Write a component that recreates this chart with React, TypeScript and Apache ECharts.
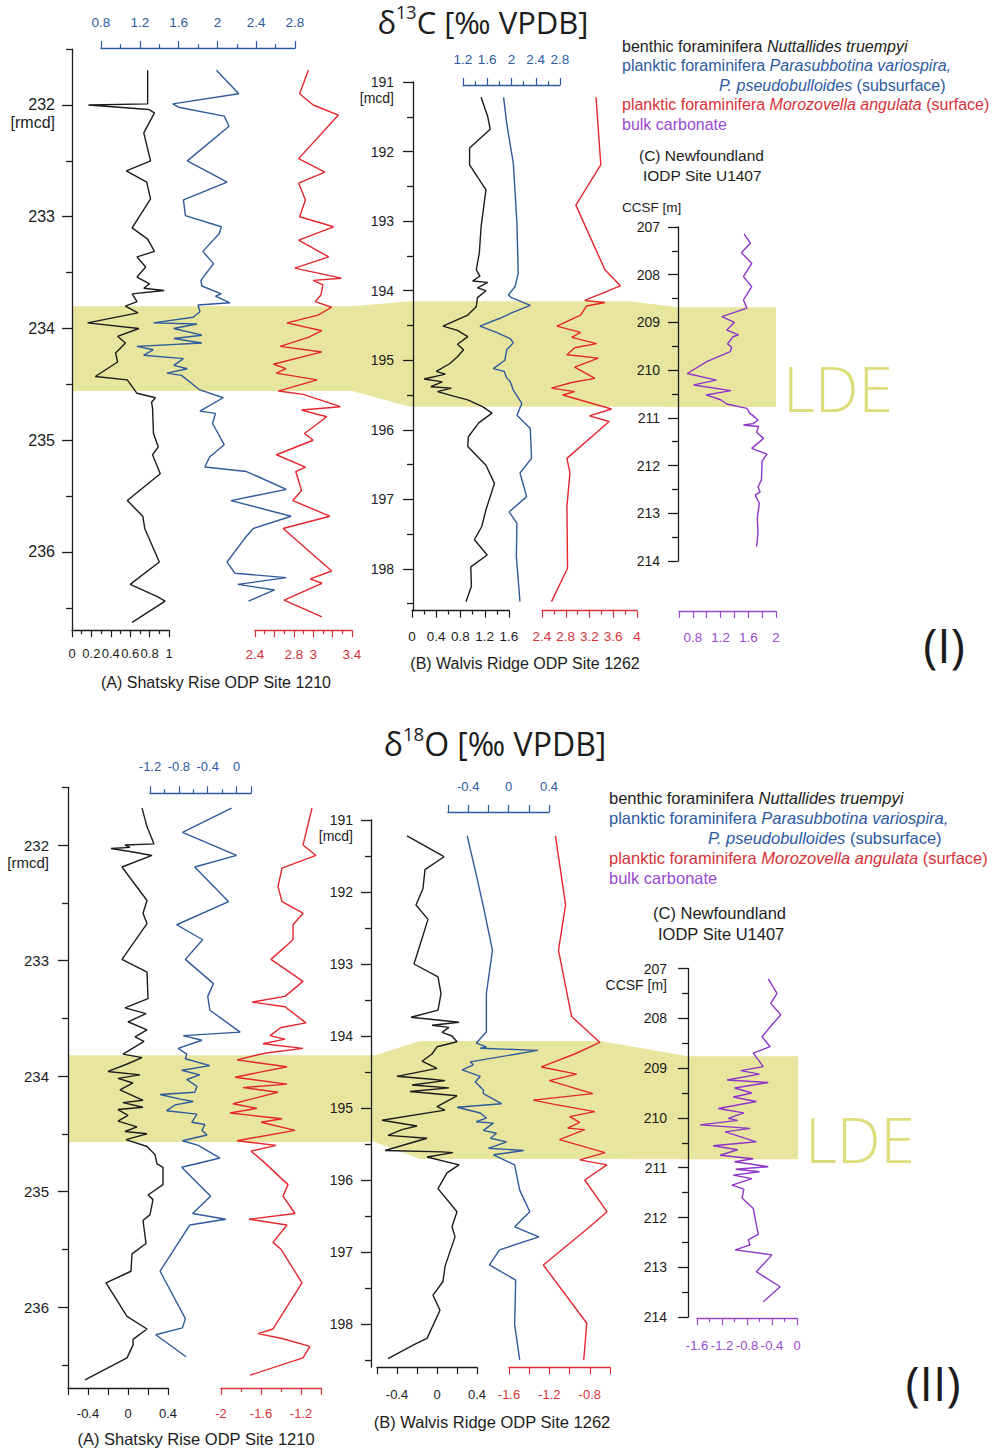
import React, { useEffect, useRef } from 'react';
import * as echarts from 'echarts';

// Each sample: [depth, isotope value in ‰ VPDB]
type Sample = [number, number];

// ---------- δ13C — (A) Shatsky Rise ODP Site 1210, depth in rmcd ----------
const shatskyC13Benthic: Sample[] = [
  [231.69, 0.78], [231.99, 0.78], [232.0, 0.17], [232.04, 0.79], [232.07, 0.85], [232.25, 0.74],
  [232.5, 0.81], [232.59, 0.56], [232.69, 0.77], [232.84, 0.81], [233.1, 0.62], [233.2, 0.78],
  [233.31, 0.85], [233.36, 0.67], [233.45, 0.76], [233.54, 0.67], [233.6, 0.8], [233.64, 0.74],
  [233.66, 0.95], [233.69, 0.62], [233.76, 0.67], [233.8, 0.55], [233.86, 0.68], [233.95, 0.16],
  [234.0, 0.69], [234.07, 0.47], [234.13, 0.55], [234.22, 0.45], [234.3, 0.47], [234.43, 0.24],
  [234.46, 0.57], [234.58, 0.67], [234.62, 0.86], [234.66, 0.82], [234.71, 0.83], [234.94, 0.84],
  [235.06, 0.89], [235.13, 0.83], [235.3, 0.91], [235.54, 0.57], [235.68, 0.73], [235.79, 0.75],
  [236.09, 0.9], [236.29, 0.6], [236.4, 0.88], [236.44, 0.96], [236.63, 0.62],
];
const shatskyC13Subsurface: Sample[] = [
  [231.69, 1.99], [231.9, 2.22], [231.99, 1.54], [232.02, 1.6], [232.1, 2.07], [232.19, 2.12],
  [232.5, 1.69], [232.69, 2.1], [232.85, 1.65], [232.99, 1.67], [233.09, 2.04], [233.15, 2.02],
  [233.31, 1.85], [233.42, 1.96], [233.57, 1.83], [233.62, 1.84], [233.69, 2.04], [233.71, 1.98],
  [233.77, 2.13], [233.79, 1.8], [233.85, 1.82], [233.9, 1.75], [233.95, 1.34], [233.96, 1.79],
  [234.0, 1.55], [234.06, 1.84], [234.09, 1.55], [234.13, 1.84], [234.16, 1.17], [234.19, 1.34],
  [234.24, 1.24], [234.27, 1.65], [234.33, 1.55], [234.36, 1.69], [234.4, 1.48], [234.42, 1.63],
  [234.55, 1.82], [234.62, 2.06], [234.74, 1.82], [234.76, 1.98], [234.85, 1.95], [235.04, 2.07],
  [235.15, 1.92], [235.24, 1.87], [235.28, 2.3], [235.44, 2.71], [235.54, 2.14], [235.68, 2.76],
  [235.79, 2.37], [235.88, 2.28], [236.09, 2.1], [236.19, 2.18], [236.23, 2.71], [236.29, 2.21],
  [236.34, 2.59], [236.44, 2.32],
];
const shatskyC13Surface: Sample[] = [
  [231.69, 2.95], [231.9, 2.86], [232.0, 3.0], [232.09, 3.26], [232.48, 2.85], [232.6, 3.12],
  [232.7, 2.85], [232.85, 2.92], [233.0, 2.86], [233.09, 3.21], [233.21, 2.85], [233.36, 3.16],
  [233.46, 2.81], [233.55, 3.29], [233.57, 3.0], [233.61, 3.1], [233.7, 3.08], [233.76, 3.02],
  [233.81, 3.19], [233.88, 3.05], [233.95, 2.73], [234.02, 3.09], [234.08, 2.95], [234.16, 2.66],
  [234.21, 3.09], [234.32, 2.59], [234.36, 2.72], [234.4, 2.62], [234.46, 3.04], [234.56, 2.64],
  [234.59, 2.9], [234.7, 3.28], [234.73, 2.88], [234.79, 3.14], [234.94, 2.91], [235.0, 3.0],
  [235.13, 2.62], [235.24, 2.92], [235.28, 2.82], [235.45, 2.88], [235.54, 2.79], [235.68, 3.17],
  [235.79, 2.69], [236.17, 3.19], [236.24, 2.97], [236.28, 3.09], [236.43, 2.7], [236.58, 3.09],
];

// ---------- δ13C — (B) Walvis Ridge ODP Site 1262, depth in mcd ----------
const walvisC13Benthic: Sample[] = [
  [191.22, 1.14], [191.5, 1.25], [191.68, 1.29], [191.95, 0.95], [192.19, 0.95], [192.55, 1.22],
  [193.08, 1.14], [193.46, 1.11], [193.7, 1.06], [193.79, 1.12], [193.86, 1.0], [193.88, 1.25],
  [193.96, 1.08], [194.0, 1.22], [194.1, 1.08], [194.23, 1.06], [194.35, 0.92], [194.51, 0.51],
  [194.57, 0.75], [194.66, 0.92], [194.77, 0.75], [194.85, 0.85], [194.95, 0.75], [195.05, 0.62],
  [195.16, 0.4], [195.2, 0.55], [195.27, 0.2], [195.31, 0.5], [195.38, 0.31], [195.4, 0.65],
  [195.45, 0.42], [195.52, 0.7], [195.57, 0.92], [195.67, 1.17], [195.76, 1.32], [195.9, 1.1],
  [196.1, 0.93], [196.24, 0.92], [196.51, 1.22], [196.77, 1.36], [197.15, 1.22], [197.39, 1.15],
  [197.58, 1.03], [197.8, 1.24], [197.97, 0.97], [198.25, 0.98], [198.47, 0.89],
];
const walvisC13Subsurface: Sample[] = [
  [191.22, 1.87], [191.59, 1.92], [192.17, 2.03], [193.03, 2.09], [193.75, 2.11], [193.94, 2.06],
  [194.06, 1.95], [194.1, 2.0], [194.21, 2.31], [194.32, 2.0], [194.4, 1.8], [194.51, 1.48],
  [194.6, 1.75], [194.69, 1.98], [194.75, 2.03], [194.85, 1.92], [195.0, 1.89], [195.12, 1.7],
  [195.16, 1.88], [195.25, 1.92], [195.31, 1.98], [195.43, 2.03], [195.62, 2.17], [195.79, 2.09],
  [195.98, 2.31], [196.41, 2.33], [196.62, 2.14], [196.96, 2.25], [197.18, 1.96], [197.34, 2.09],
  [197.82, 2.08], [198.47, 2.14],
];
const walvisC13Surface: Sample[] = [
  [191.22, 3.31], [192.19, 3.39], [192.77, 2.97], [193.7, 3.46], [193.93, 3.72], [194.14, 3.12],
  [194.17, 3.46], [194.22, 3.15], [194.35, 3.05], [194.51, 2.65], [194.6, 3.05], [194.67, 2.9],
  [194.76, 3.32], [194.82, 2.95], [194.92, 2.82], [194.97, 3.35], [195.1, 2.95], [195.26, 3.29],
  [195.32, 2.9], [195.4, 2.56], [195.45, 2.95], [195.5, 2.75], [195.7, 3.57], [195.8, 3.2],
  [195.88, 3.53], [196.41, 2.82], [196.62, 2.87], [197.1, 2.82], [197.99, 2.83], [198.47, 2.56],
];

// ---------- δ13C — (C) Newfoundland IODP Site U1407, depth in CCSF m ----------
const newfoundlandC13Bulk: Sample[] = [
  [207.15, 1.54], [207.34, 1.63], [207.54, 1.5], [207.76, 1.65], [208.04, 1.53], [208.25, 1.65],
  [208.53, 1.53], [208.7, 1.58], [208.88, 1.22], [209.0, 1.4], [209.16, 1.29], [209.26, 1.46],
  [209.3, 1.38], [209.45, 1.3], [209.52, 1.36], [209.61, 1.34], [209.82, 1.0], [210.07, 0.72],
  [210.21, 1.14], [210.31, 0.81], [210.43, 1.35], [210.52, 0.99], [210.62, 1.2], [210.71, 1.29],
  [210.8, 1.58], [210.9, 1.62], [210.99, 1.7], [211.05, 1.74], [211.12, 1.67], [211.15, 1.53],
  [211.18, 1.75], [211.3, 1.72], [211.43, 1.82], [211.64, 1.65], [211.76, 1.87], [211.9, 1.8],
  [212.3, 1.79], [212.45, 1.74], [212.55, 1.77], [212.62, 1.7], [212.79, 1.76], [213.1, 1.73],
  [213.4, 1.74], [213.7, 1.72],
];

// ---------- δ18O — (A) Shatsky Rise ODP Site 1210 ----------
const shatskyO18Benthic: Sample[] = [
  [231.68, 0.14], [231.84, 0.19], [231.99, 0.26], [232.0, -0.03], [232.02, 0.02], [232.03, -0.17],
  [232.06, 0.05], [232.09, 0.24], [232.19, -0.06], [232.48, 0.19], [232.59, 0.15], [232.68, 0.19],
  [232.99, -0.06], [233.1, 0.19], [233.33, 0.2], [233.41, -0.03], [233.46, 0.18], [233.53, 0.0],
  [233.6, 0.19], [233.66, 0.07], [233.7, 0.16], [233.81, -0.05], [233.84, 0.14], [233.9, -0.02],
  [233.96, -0.2], [233.99, 0.12], [234.02, -0.1], [234.06, 0.05], [234.12, -0.08], [234.21, 0.15],
  [234.23, -0.05], [234.27, 0.15], [234.29, -0.1], [234.34, 0.0], [234.39, -0.1], [234.44, 0.09],
  [234.48, -0.03], [234.5, 0.19], [234.55, -0.02], [234.61, 0.19], [234.68, 0.27], [234.76, 0.29],
  [234.79, 0.35], [234.94, 0.35], [235.03, 0.2], [235.07, 0.25], [235.2, 0.22], [235.25, 0.15],
  [235.45, 0.18], [235.54, 0.04], [235.69, 0.03], [235.79, -0.22], [236.08, -0.01], [236.19, 0.19],
  [236.28, 0.05], [236.33, 0.05], [236.44, -0.01], [236.63, -0.43],
];
const shatskyO18Subsurface: Sample[] = [
  [231.68, -0.07], [231.89, -0.75], [232.09, 0.0], [232.19, -0.58], [232.49, -0.11], [232.69, -0.83],
  [232.82, -0.47], [232.99, -0.71], [233.2, -0.32], [233.31, -0.4], [233.43, -0.37], [233.62, 0.05],
  [233.65, -0.74], [233.69, -0.48], [233.76, -0.81], [233.81, -0.69], [233.85, -0.71], [233.91, -0.37],
  [233.95, -0.76], [233.99, -0.51], [234.03, -0.69], [234.09, -0.55], [234.14, -0.58], [234.16, -1.06],
  [234.2, -0.78], [234.22, -0.6], [234.25, -0.85], [234.3, -0.97], [234.33, -0.55], [234.4, -0.62],
  [234.42, -0.44], [234.47, -0.48], [234.51, -0.41], [234.56, -0.75], [234.6, -0.53], [234.71, -0.23],
  [234.79, -0.76], [235.04, -0.36], [235.19, -0.61], [235.24, -0.15], [235.29, -0.65], [235.69, -1.06],
  [236.1, -0.71], [236.18, -0.75], [236.24, -1.12], [236.43, -0.7],
];
const shatskyO18Surface: Sample[] = [
  [231.68, -1.09], [232.0, -1.18], [232.09, -1.05], [232.2, -1.39], [232.36, -1.43], [232.49, -1.39],
  [232.59, -1.18], [232.69, -1.28], [232.82, -1.28], [232.99, -1.5], [233.18, -1.18], [233.31, -1.36],
  [233.36, -1.69], [233.4, -1.36], [233.54, -1.15], [233.58, -1.4], [233.65, -1.51], [233.68, -1.36],
  [233.72, -1.58], [233.76, -1.18], [233.8, -1.55], [233.86, -1.84], [233.92, -1.34], [234.01, -1.86],
  [234.07, -1.34], [234.1, -1.78], [234.14, -1.43], [234.24, -1.88], [234.28, -1.64], [234.32, -1.91],
  [234.37, -1.39], [234.4, -1.6], [234.47, -1.26], [234.56, -1.84], [234.6, -1.45], [234.65, -1.7],
  [234.73, -1.59], [234.94, -1.33], [235.04, -1.38], [235.19, -1.26], [235.24, -1.72], [235.29, -1.34],
  [235.44, -1.48], [235.5, -1.4], [235.79, -1.19], [236.19, -1.48], [236.23, -1.63], [236.27, -1.4],
  [236.34, -1.11], [236.44, -1.18], [236.59, -1.71],
];

// ---------- δ18O — (B) Walvis Ridge ODP Site 1262 ----------
const walvisO18Benthic: Sample[] = [
  [191.22, -0.3], [191.51, 0.07], [191.69, -0.12], [191.95, -0.14], [192.18, -0.21], [192.38, -0.09],
  [193.0, -0.23], [193.18, 0.01], [193.41, 0.04], [193.64, 0.01], [193.74, -0.26], [193.81, 0.22],
  [193.85, -0.05], [193.88, 0.12], [193.95, 0.05], [194.0, 0.15], [194.08, 0.2], [194.15, 0.0],
  [194.25, -0.05], [194.35, -0.15], [194.45, 0.0], [194.56, -0.4], [194.6, -0.05], [194.62, 0.08],
  [194.68, -0.25], [194.72, 0.12], [194.77, -0.27], [194.83, 0.2], [194.98, 0.0], [195.03, 0.08],
  [195.17, -0.55], [195.25, -0.2], [195.3, -0.35], [195.38, -0.49], [195.42, -0.1], [195.59, -0.52],
  [195.61, 0.05], [195.62, 0.16], [195.68, -0.1], [195.79, 0.22], [195.9, 0.1], [196.12, 0.01],
  [196.44, 0.2], [196.65, 0.15], [196.79, 0.18], [197.2, 0.08], [197.41, 0.06], [197.6, -0.04],
  [197.81, 0.03], [198.2, -0.1], [198.28, -0.22], [198.48, -0.49],
];
const walvisO18Subsurface: Sample[] = [
  [191.22, -0.41], [191.7, -0.33], [192.2, -0.25], [192.81, -0.16], [193.41, -0.22], [193.94, -0.22],
  [194.1, -0.32], [194.15, -0.22], [194.17, -0.28], [194.2, 0.29], [194.36, -0.38], [194.4, -0.35],
  [194.47, -0.46], [194.56, -0.28], [194.64, -0.33], [194.75, -0.25], [194.8, -0.25], [194.94, -0.07],
  [194.99, -0.51], [195.07, -0.28], [195.14, -0.22], [195.19, -0.32], [195.21, -0.15], [195.31, -0.25],
  [195.35, -0.12], [195.42, -0.18], [195.47, -0.02], [195.56, -0.2], [195.59, 0.15], [195.65, -0.15],
  [195.79, 0.06], [196.14, 0.11], [196.44, 0.21], [196.65, 0.06], [196.79, 0.3], [196.97, -0.09],
  [197.18, -0.19], [197.39, 0.07], [198.01, 0.06], [198.5, 0.11],
];
const walvisO18Surface: Sample[] = [
  [191.22, -1.14], [192.18, -1.04], [192.81, -1.11], [193.73, -0.98], [194.09, -0.7], [194.25, -0.95],
  [194.43, -1.28], [194.53, -0.93], [194.62, -1.2], [194.8, -0.77], [194.89, -1.36], [194.95, -1.15],
  [195.05, -0.75], [195.12, -1.0], [195.2, -0.9], [195.28, -1.02], [195.3, -0.85], [195.44, -1.1],
  [195.62, -0.65], [195.72, -0.9], [195.79, -0.63], [196.0, -0.85], [196.44, -0.63], [196.65, -0.8],
  [197.18, -1.26], [197.99, -0.83], [198.5, -0.86],
];

// ---------- δ18O — (C) Newfoundland IODP Site U1407 ----------
const newfoundlandO18Bulk: Sample[] = [
  [207.21, -0.46], [207.5, -0.32], [207.7, -0.42], [207.93, -0.26], [208.13, -0.4], [208.37, -0.56],
  [208.57, -0.43], [208.7, -0.7], [208.97, -0.54], [209.05, -0.9], [209.12, -0.6], [209.24, -1.12],
  [209.29, -0.46], [209.4, -1.0], [209.5, -0.72], [209.58, -1.02], [209.67, -0.65], [209.81, -1.26],
  [209.9, -0.85], [210.01, -1.1], [210.05, -0.95], [210.14, -1.55], [210.21, -0.75], [210.28, -1.15],
  [210.48, -0.65], [210.56, -1.34], [210.64, -0.95], [210.75, -1.23], [210.82, -0.7], [210.88, -1.0],
  [210.98, -0.46], [211.03, -0.98], [211.08, -0.6], [211.15, -1.02], [211.22, -0.72], [211.35, -1.04],
  [211.43, -0.85], [211.61, -0.88], [211.82, -0.7], [212.34, -0.62], [212.45, -0.78], [212.55, -0.75],
  [212.65, -0.99], [212.75, -0.4], [213.09, -0.65], [213.39, -0.27], [213.69, -0.54],
];

// ---------- LDE interval per core [top, base] ----------
const ldeShatsky13: [number, number] = [233.8, 234.56];
const ldeWalvis13: [number, number] = [194.15, 195.67];
const ldeNewfoundland13: [number, number] = [208.68, 210.77];
const ldeShatsky18: [number, number] = [233.82, 234.57];
const ldeWalvis18: [number, number] = [194.07, 195.71];
const ldeNewfoundland18: [number, number] = [208.76, 210.83];

// ---------- depth-axis ticks and labels ----------
const shatskyMajor = [232, 233, 234, 235, 236];
const shatskyMinor = [231.5, 232.5, 233.5, 234.5, 235.5, 236.5];
const walvisMajor = [191, 192, 193, 194, 195, 196, 197, 198];
const walvisMinor = [191.5, 192.5, 193.5, 194.5, 195.5, 196.5, 197.5, 198.5];
const newfoundlandMajor = [207, 208, 209, 210, 211, 212, 213, 214];
const newfoundlandMinor = [207.5, 208.5, 209.5, 210.5, 211.5, 212.5, 213.5];

// ---------- isotope-axis labels where not every major tick is labelled ----------
const labelsShatskyC13Surface = [2.4, 2.8, 3, 3.4];
const labelsNewfoundlandC13 = [0.8, 1.2, 1.6, 2];
const labelsShatskyO18Benthic = [-0.4, 0, 0.4];
const labelsShatskyO18Subsurface = [-1.2, -0.8, -0.4, 0];
const labelsShatskyO18Surface = [-2, -1.6, -1.2];
const labelsWalvisO18Benthic = [-0.4, 0, 0.4];
const labelsWalvisO18Subsurface = [-0.4, 0, 0.4];
const labelsWalvisO18Surface = [-1.6, -1.2, -0.8];

// ---------- styling ----------
const INK = '#1c1c1c';
const BLUE = '#2f5b9a';
const RED = '#e3272d';
const PURPLE = '#8f35c8';
const BLUE_TEXT = '#2d5aa1';
const RED_TEXT = '#d6323a';
const PURPLE_TEXT = '#9a4ad0';
const BAND = '#e8e69e';
const LDE_INK = '#dedd7c';
const SANS = "'Liberation Sans', Arial, sans-serif";
const DISPLAY = "'Open Sans', 'Liberation Sans', sans-serif";

interface Column {
  depthMin: number; depthMax: number;
  top: number; height: number;
  axisX: number;
  major: number[]; minor: number[];
  labelSize: number; labelMargin: number;
  unit?: string;
  lde: [number, number];
}

interface Track {
  col: number; data: Sample[]; color: string; labelColor: string;
  left: number; right: number;
  min: number; max: number; interval: number; minor: number;
  position: 'top' | 'bottom'; offset: number;
  labels?: number[]; labelSize: number; labelMargin: number;
}

const columns: Column[] = [
  { depthMin: 231.5, depthMax: 236.7, top: 49.1, height: 581.1, axisX: 72, major: shatskyMajor, minor: shatskyMinor, labelSize: 16, labelMargin: 17, unit: '[rmcd]', lde: ldeShatsky13 },
  { depthMin: 191, depthMax: 198.6, top: 82, height: 528.7, axisX: 413, major: walvisMajor, minor: walvisMinor, labelSize: 14, labelMargin: 19, unit: '[mcd]', lde: ldeWalvis13 },
  { depthMin: 207, depthMax: 214, top: 227, height: 334, axisX: 678, major: newfoundlandMajor, minor: newfoundlandMinor, labelSize: 14, labelMargin: 18, lde: ldeNewfoundland13 },
  { depthMin: 231.5, depthMax: 236.7, top: 787.3, height: 600.6, axisX: 68, major: shatskyMajor, minor: shatskyMinor, labelSize: 15, labelMargin: 19, unit: '[rmcd]', lde: ldeShatsky18 },
  { depthMin: 191, depthMax: 198.6, top: 820, height: 547.2, axisX: 371, major: walvisMajor, minor: walvisMinor, labelSize: 14, labelMargin: 18, unit: '[mcd]', lde: ldeWalvis18 },
  { depthMin: 207, depthMax: 214, top: 968.5, height: 348.6, axisX: 688, major: newfoundlandMajor, minor: newfoundlandMinor, labelSize: 14, labelMargin: 21, unit: 'CCSF [m]', lde: ldeNewfoundland18 },
];

const tracks: Track[] = [
  { col: 0, data: shatskyC13Benthic, color: INK, labelColor: INK, left: 72, right: 169, min: 0, max: 1, interval: 0.2, minor: 2, position: 'bottom', offset: 0, labelSize: 13, labelMargin: 17 },
  { col: 0, data: shatskyC13Subsurface, color: BLUE, labelColor: BLUE_TEXT, left: 101, right: 295, min: 0.8, max: 2.8, interval: 0.4, minor: 2, position: 'top', offset: 1, labelSize: 13.5, labelMargin: 19 },
  { col: 0, data: shatskyC13Surface, color: RED, labelColor: RED_TEXT, left: 255, right: 352, min: 2.4, max: 3.4, interval: 0.2, minor: 2, position: 'bottom', offset: 0, labels: labelsShatskyC13Surface, labelSize: 13.5, labelMargin: 17 },
  { col: 1, data: walvisC13Benthic, color: INK, labelColor: INK, left: 412, right: 509, min: 0, max: 1.6, interval: 0.4, minor: 2, position: 'bottom', offset: 0, labelSize: 13.5, labelMargin: 19 },
  { col: 1, data: walvisC13Subsurface, color: BLUE, labelColor: BLUE_TEXT, left: 463, right: 560, min: 1.2, max: 2.8, interval: 0.4, minor: 2, position: 'top', offset: -3, labelSize: 13.5, labelMargin: 19 },
  { col: 1, data: walvisC13Surface, color: RED, labelColor: RED_TEXT, left: 542, right: 637, min: 2.4, max: 4, interval: 0.4, minor: 2, position: 'bottom', offset: 0, labelSize: 13.5, labelMargin: 19 },
  { col: 2, data: newfoundlandC13Bulk, color: PURPLE, labelColor: PURPLE_TEXT, left: 679, right: 776, min: 0.6, max: 2, interval: 0.2, minor: 0, position: 'bottom', offset: 50, labels: labelsNewfoundlandC13, labelSize: 13.5, labelMargin: 19 },
  { col: 3, data: shatskyO18Benthic, color: INK, labelColor: INK, left: 68, right: 168, min: -0.6, max: 0.4, interval: 0.2, minor: 0, position: 'bottom', offset: 0, labels: labelsShatskyO18Benthic, labelSize: 13, labelMargin: 19 },
  { col: 3, data: shatskyO18Subsurface, color: BLUE, labelColor: BLUE_TEXT, left: 150, right: 251, min: -1.2, max: 0.2, interval: 0.4, minor: 2, position: 'top', offset: -6, labels: labelsShatskyO18Subsurface, labelSize: 13, labelMargin: 20 },
  { col: 3, data: shatskyO18Surface, color: RED, labelColor: RED_TEXT, left: 221, right: 321, min: -2, max: -1, interval: 0.4, minor: 2, position: 'bottom', offset: 0, labels: labelsShatskyO18Surface, labelSize: 13, labelMargin: 19 },
  { col: 4, data: walvisO18Benthic, color: INK, labelColor: INK, left: 377, right: 477, min: -0.6, max: 0.4, interval: 0.2, minor: 0, position: 'bottom', offset: 0, labels: labelsWalvisO18Benthic, labelSize: 13, labelMargin: 21 },
  { col: 4, data: walvisO18Subsurface, color: BLUE, labelColor: BLUE_TEXT, left: 448, right: 549, min: -0.6, max: 0.4, interval: 0.2, minor: 0, position: 'top', offset: 8, labels: labelsWalvisO18Subsurface, labelSize: 13, labelMargin: 19 },
  { col: 4, data: walvisO18Surface, color: RED, labelColor: RED_TEXT, left: 509, right: 610, min: -1.6, max: -0.6, interval: 0.2, minor: 0, position: 'bottom', offset: 0, labels: labelsWalvisO18Surface, labelSize: 13, labelMargin: 21 },
  { col: 5, data: newfoundlandO18Bulk, color: PURPLE, labelColor: PURPLE_TEXT, left: 697, right: 797, min: -1.6, max: 0, interval: 0.4, minor: 2, position: 'bottom', offset: 1, labelSize: 13, labelMargin: 21 },
];

// horizontal outline of the LDE band across the three cores of each panel
const bandLayouts = [
  { cols: [0, 1, 2], left: 72, joins: [[352, 410], [630, 678]], right: 776 },
  { cols: [3, 4, 5], left: 68, joins: [[375, 420], [600, 688]], right: 798 },
];

function buildOption(depthAxisIdx: number[]) {
  const grid: any[] = [];
  const xAxis: any[] = [];
  const yAxis: any[] = [];
  const series: any[] = [];

  columns.forEach((c) => {
    const gi = grid.length;
    grid.push({ left: c.axisX, top: c.top, width: 20, height: c.height, outerBoundsMode: 'none' });
    xAxis.push({ gridIndex: gi, type: 'value', show: false, min: 0, max: 1 });
    const first = c.major[0];
    depthAxisIdx.push(yAxis.length);
    yAxis.push({
      gridIndex: gi, type: 'value', inverse: true, min: c.depthMin, max: c.depthMax, position: 'left',
      axisLine: { show: true, onZero: false, lineStyle: { color: INK, width: 1.3 } },
      axisTick: { show: true, customValues: c.major, length: 10, lineStyle: { color: INK, width: 1.3 } },
      axisLabel: {
        show: true, customValues: c.major, margin: c.labelMargin, color: INK,
        fontSize: c.labelSize, fontFamily: SANS,
        formatter: (v: number) => {
          const s = String(Math.round(v));
          if (c.unit && Math.abs(v - first) < 1e-6) return `{s| }\n{v|${s}}\n{u|${c.unit}}`;
          return s;
        },
        rich: {
          s: { fontSize: c.labelSize, lineHeight: c.labelSize + 2 },
          v: { fontSize: c.labelSize, lineHeight: c.labelSize + 2, color: INK, fontFamily: SANS },
          u: { fontSize: c.labelSize, lineHeight: c.labelSize + 2, color: INK, fontFamily: SANS },
        },
      },
      splitLine: { show: false },
    });
    yAxis.push({
      gridIndex: gi, type: 'value', inverse: true, min: c.depthMin, max: c.depthMax, position: 'left',
      axisLine: { show: false },
      axisTick: { show: true, customValues: c.minor, length: 6, lineStyle: { color: INK, width: 1.3 } },
      axisLabel: { show: false },
      splitLine: { show: false },
    });
  });

  tracks.forEach((t) => {
    const c = columns[t.col];
    const gi = grid.length;
    grid.push({ left: t.left, top: c.top, width: t.right - t.left, height: c.height, outerBoundsMode: 'none' });
    const xi = xAxis.length;
    const label: any = {
      show: true, color: t.labelColor, fontSize: t.labelSize, fontFamily: SANS, margin: t.labelMargin,
    };
    if (t.labels) label.customValues = t.labels;
    xAxis.push({
      gridIndex: gi, type: 'value', position: t.position, offset: t.offset,
      min: t.min, max: t.max, interval: t.interval,
      axisLine: { show: true, onZero: false, lineStyle: { color: t.labelColor, width: 1.3 } },
      axisTick: { show: true, length: 7, lineStyle: { color: t.labelColor, width: 1.2 } },
      minorTick: { show: t.minor > 1, splitNumber: t.minor > 1 ? t.minor : 2, length: 4, lineStyle: { color: t.labelColor, width: 1.2 } },
      axisLabel: label,
      splitLine: { show: false }, minorSplitLine: { show: false },
    });
    const yi = yAxis.length;
    yAxis.push({ gridIndex: gi, type: 'value', inverse: true, min: c.depthMin, max: c.depthMax, show: false });
    series.push({
      type: 'line', xAxisIndex: xi, yAxisIndex: yi,
      data: t.data.map(([d, v]) => [v, d]),
      showSymbol: false, symbol: 'none', clip: false, silent: true, z: 5,
      lineStyle: { color: t.color, width: 1.4 },
    });
  });

  return { animation: false, textStyle: { fontFamily: SANS }, grid, xAxis, yAxis, series };
}

function text(x: number, y: number, str: string, opts: any = {}) {
  return {
    type: 'text', x, y, z: 10, silent: true,
    style: {
      text: str, fill: opts.fill ?? INK, fontSize: opts.fontSize ?? 16, fontFamily: opts.fontFamily ?? SANS,
      fontWeight: opts.fontWeight ?? 'normal',
      textAlign: opts.align ?? 'left', textVerticalAlign: 'middle', rich: opts.rich,
    },
  };
}

function titleText(x: number, y: number, iso: string, element: string, size: number) {
  return text(x, y, `{a|δ}{s|${iso}}{a|${element} [‰ VPDB]}`, {
    align: 'center',
    rich: {
      a: { fontSize: size, fontFamily: DISPLAY, fill: INK, lineHeight: size + 7 },
      s: { fontSize: size * 0.58, fontFamily: DISPLAY, fill: INK, lineHeight: size * 0.72, verticalAlign: 'top' },
    },
  });
}

function legendBlock(x: number, y: number, step: number, indent: number, size: number) {
  const rich = (fill: string) => ({
    n: { fontSize: size, fontFamily: SANS, fill },
    i: { fontSize: size, fontFamily: SANS, fill, fontStyle: 'italic' },
  });
  return [
    text(x, y, '{n|benthic foraminifera }{i|Nuttallides truempyi}', { rich: rich(INK) }),
    text(x, y + step, '{n|planktic foraminifera }{i|Parasubbotina variospira,}', { rich: rich(BLUE_TEXT) }),
    text(x + indent, y + 2 * step, '{i|P. pseudobulloides}{n| (subsurface)}', { rich: rich(BLUE_TEXT) }),
    text(x, y + 3 * step, '{n|planktic foraminifera }{i|Morozovella angulata}{n| (surface)}', { rich: rich(RED_TEXT) }),
    text(x, y + 4 * step, '{n|bulk carbonate}', { rich: rich(PURPLE_TEXT) }),
  ];
}

function buildGraphics(chart: echarts.ECharts, depthAxisIdx: number[]) {
  const yOf = (ci: number, depth: number) =>
    chart.convertToPixel({ yAxisIndex: depthAxisIdx[ci] } as any, depth) as unknown as number;

  const bands = bandLayouts.map((b) => {
    const tops = b.cols.map((ci) => yOf(ci, columns[ci].lde[0]));
    const bots = b.cols.map((ci) => yOf(ci, columns[ci].lde[1]));
    const [j1, j2] = b.joins;
    const points = [
      [b.left, tops[0]], [j1[0], tops[0]], [j1[1], tops[1]], [j2[0], tops[1]], [j2[1], tops[2]], [b.right, tops[2]],
      [b.right, bots[2]], [j2[1], bots[2]], [j2[0], bots[1]], [j1[1], bots[1]], [j1[0], bots[0]], [b.left, bots[0]],
    ];
    return { type: 'polygon', z: -1, silent: true, shape: { points }, style: { fill: BAND } };
  });

  return [
    ...bands,
    // panel I — δ13C
    titleText(483, 22, '13', 'C', 31),
    ...legendBlock(622, 46, 19.5, 97, 16),
    text(639, 155, '(C) Newfoundland', { fontSize: 15.5 }),
    text(643, 175, 'IODP Site U1407', { fontSize: 15.5 }),
    text(622, 207, 'CCSF [m]', { fontSize: 13.5 }),
    text(216, 682, '(A) Shatsky Rise ODP Site 1210', { align: 'center', fontSize: 16 }),
    text(525, 663, '(B) Walvis Ridge ODP Site 1262', { align: 'center', fontSize: 16 }),
    text(783, 388, 'LDE', { fontSize: 62, fontFamily: DISPLAY, fontWeight: 300, fill: LDE_INK }),
    text(944, 644, '(I)', { align: 'center', fontSize: 48, fontFamily: DISPLAY }),
    // panel II — δ18O
    titleText(495, 743, '18', 'O', 32),
    ...legendBlock(609, 798, 20, 99, 16.5),
    text(653, 913, '(C) Newfoundland', { fontSize: 16.5 }),
    text(658, 934, 'IODP Site U1407', { fontSize: 16.5 }),
    text(196, 1439, '(A) Shatsky Rise ODP Site 1210', { align: 'center', fontSize: 16.5 }),
    text(492, 1422, '(B) Walvis Ridge ODP Site 1262', { align: 'center', fontSize: 16.5 }),
    text(805, 1139, 'LDE', { fontSize: 62, fontFamily: DISPLAY, fontWeight: 300, fill: LDE_INK }),
    text(933, 1382, '(II)', { align: 'center', fontSize: 48, fontFamily: DISPLAY }),
  ];
}

export default function App() {
  const ref = useRef<HTMLDivElement>(null);
  useEffect(() => {
    document.body.style.margin = '0';
    if (!ref.current) return;
    const chart = echarts.init(ref.current, null, { renderer: 'svg' });
    const depthAxisIdx: number[] = [];
    chart.setOption(buildOption(depthAxisIdx));
    chart.setOption({ graphic: buildGraphics(chart, depthAxisIdx) });
    return () => chart.dispose();
  }, []);
  return <div ref={ref} style={{ width: 995, height: 1449, background: '#fff' }} />;
}
